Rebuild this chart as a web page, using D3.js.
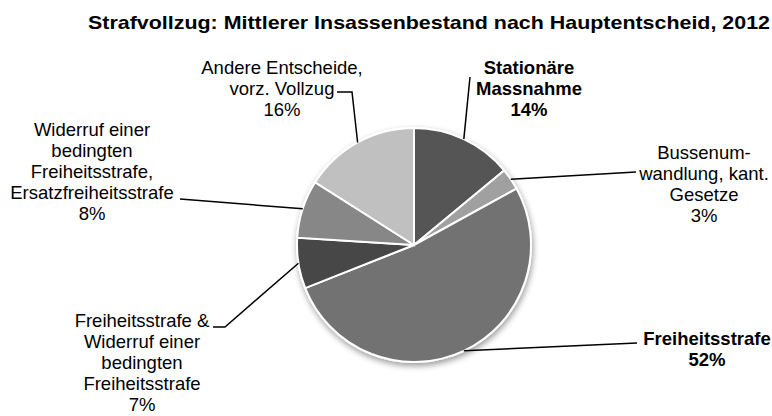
<!DOCTYPE html>
<html>
<head>
<meta charset="utf-8">
<script src="https://cdn.jsdelivr.net/npm/d3@7"></script>
<style>
  body { margin: 0; background: #fff; }
  text { font-family: "Liberation Sans", Arial, sans-serif; fill: #000; }
</style>
</head>
<body>
<div id="chart"></div>
<script>
// Data
const categories = [
  "Stationäre Massnahme",
  "Bussenumwandlung, kant. Gesetze",
  "Freiheitsstrafe",
  "Freiheitsstrafe & Widerruf einer bedingten Freiheitsstrafe",
  "Widerruf einer bedingten Freiheitsstrafe, Ersatzfreiheitsstrafe",
  "Andere Entscheide, vorz. Vollzug"
];
const shares = [14, 3, 52, 7, 8, 16];
const labelLines = [
  ["Stationäre", "Massnahme", "14%"],
  ["Bussenum-", "wandlung, kant.", "Gesetze", "3%"],
  ["Freiheitsstrafe", "52%"],
  ["Freiheitsstrafe &", "Widerruf einer", "bedingten", "Freiheitsstrafe", "7%"],
  ["Widerruf einer", "bedingten", "Freiheitsstrafe,", "Ersatzfreiheitsstrafe", "8%"],
  ["Andere Entscheide,", "vorz. Vollzug", "16%"]
];
const boldLabel = [true, false, true, false, false, false];
const sliceColors = ["#555555", "#a0a0a0", "#727272", "#474747", "#878787", "#c0c0c0"];

const width = 772, height = 416;
const cx = 414, cy = 245, radius = 117;

// label placement: centre x, first baseline y, leader end (lx, ly), optional elbow x
const labelPos = [
  { x: 529, y: 74, lx: 470, ly: 77, hx: null },
  { x: 704, y: 159, lx: 636, ly: 172, hx: null },
  { x: 707, y: 345, lx: 637, ly: 343, hx: null },
  { x: 142, y: 327, lx: 213, ly: 327, hx: 225 },
  { x: 92, y: 136, lx: 180, ly: 199, hx: null },
  { x: 282, y: 74, lx: 337, ly: 92, hx: 352 }
];

const svg = d3.select("#chart")
  .append("svg")
  .attr("width", width)
  .attr("height", height);

const defs = svg.append("defs");
const shadow = defs.append("filter")
  .attr("id", "shadow")
  .attr("x", "-20%").attr("y", "-20%")
  .attr("width", "140%").attr("height", "140%");
shadow.append("feGaussianBlur").attr("in", "SourceAlpha").attr("stdDeviation", 3);
shadow.append("feOffset").attr("dx", 1).attr("dy", 3).attr("result", "off");
shadow.append("feComponentTransfer").append("feFuncA").attr("type", "linear").attr("slope", 0.4);
const merge = shadow.append("feMerge");
merge.append("feMergeNode");
merge.append("feMergeNode").attr("in", "SourceGraphic");

// Title
svg.append("text")
  .attr("x", 429)
  .attr("y", 29)
  .attr("text-anchor", "middle")
  .attr("textLength", 682)
  .attr("lengthAdjust", "spacingAndGlyphs")
  .style("font-size", "19px")
  .style("font-weight", "bold")
  .text("Strafvollzug: Mittlerer Insassenbestand nach Hauptentscheid, 2012");

const pie = d3.pie().sort(null).value(d => d);
const arcs = pie(shares);
const arc = d3.arc().innerRadius(0).outerRadius(radius);

const g = svg.append("g")
  .attr("transform", "translate(" + cx + "," + cy + ")");

const pieG = g.append("g").attr("filter", "url(#shadow)");
pieG.selectAll("path")
  .data(arcs)
  .enter().append("path")
  .attr("d", arc)
  .attr("fill", (d, i) => sliceColors[i])
  .attr("stroke", "#fff")
  .attr("stroke-width", 2);

// Leader lines
const edgePoint = d => {
  const a = (d.startAngle + d.endAngle) / 2;
  return [cx + radius * Math.sin(a), cy - radius * Math.cos(a)];
};

svg.selectAll(".leader")
  .data(arcs)
  .enter().append("polyline")
  .attr("class", "leader")
  .attr("fill", "none")
  .attr("stroke", "#000")
  .attr("stroke-width", 1.5)
  .attr("points", (d, i) => {
    const p = labelPos[i];
    const pts = [[p.lx, p.ly]];
    if (p.hx !== null) pts.push([p.hx, p.ly]);
    pts.push(edgePoint(d));
    return pts.map(q => q.join(",")).join(" ");
  });

// Labels
const labels = svg.selectAll(".label")
  .data(arcs)
  .enter().append("text")
  .attr("class", "label")
  .attr("text-anchor", "middle")
  .style("font-size", "18.5px")
  .style("font-weight", (d, i) => boldLabel[i] ? "bold" : "normal");

labels.each(function(d, i) {
  const t = d3.select(this);
  labelLines[i].forEach((line, j) => {
    t.append("tspan")
      .attr("x", labelPos[i].x)
      .attr("y", labelPos[i].y + j * 21)
      .text(line);
  });
});
</script>
</body>
</html>
